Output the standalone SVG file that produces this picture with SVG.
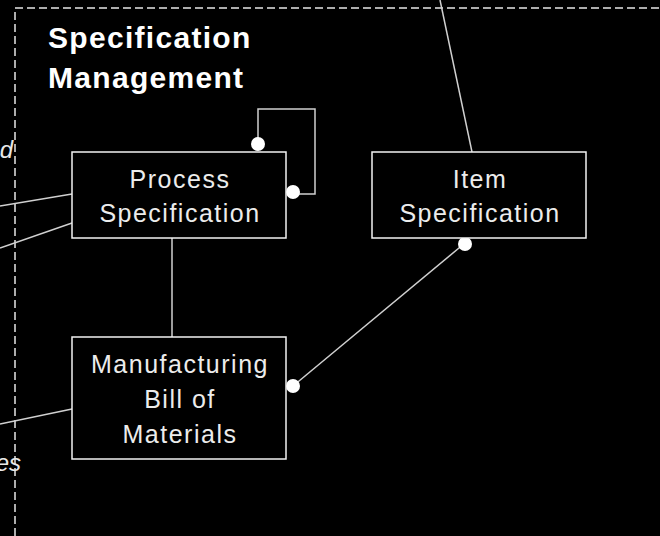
<svg xmlns="http://www.w3.org/2000/svg" width="660" height="536" viewBox="0 0 660 536">
<style>
.node rect{fill:#000;stroke:#f2f2f2;stroke-width:1.5}
.node text{font-family:"Liberation Sans",Arial,sans-serif;font-size:25px;fill:#ececec;text-anchor:middle;letter-spacing:1.5px}
.conn{fill:none;stroke:#d0d0d0;stroke-width:1.5}
.dot{fill:#fff}
.lbl{font-family:"Liberation Sans",Arial,sans-serif;font-size:24px;font-style:italic;fill:#e8e8e8;text-anchor:end}
.title{font-family:"Liberation Sans",Arial,sans-serif;font-size:30px;font-weight:bold;fill:#fff;letter-spacing:1.3px}
</style>
<rect width="660" height="536" fill="#000"/>
<g id="boundary">
<path d="M15 536 V8 H660" fill="none" stroke="#e6e6e6" stroke-width="1.5" stroke-dasharray="8 4"/>
<text class="title" x="48" y="48">Specification</text>
<text class="title" x="48" y="88">Management</text>
</g>
<g id="connectors">
<path class="conn" d="M258 144 V109 H315 V194 H293"/>
<path class="conn" d="M172 238 V337"/>
<path class="conn" d="M293 386 L465 243"/>
<path class="conn" d="M440 0 L472 152"/>
<path class="conn" d="M0 206 L72 194"/>
<path class="conn" d="M0 248 L72 223"/>
<path class="conn" d="M0 424 L72 409"/>
<circle class="dot" cx="258" cy="144" r="7"/>
<circle class="dot" cx="293" cy="192" r="7"/>
<circle class="dot" cx="293" cy="386" r="7"/>
<circle class="dot" cx="465" cy="244" r="7"/>
<text class="lbl" x="13" y="158">d</text>
<text class="lbl" x="21" y="471">es</text>
</g>
<g id="process-specification" class="node">
<rect x="72" y="152" width="214" height="86"/>
<text x="180" y="188">Process</text>
<text x="180" y="222">Specification</text>
</g>
<g id="item-specification" class="node">
<rect x="372" y="152" width="214" height="86"/>
<text x="480" y="188">Item</text>
<text x="480" y="222">Specification</text>
</g>
<g id="manufacturing-bom" class="node">
<rect x="72" y="337" width="214" height="122"/>
<text x="180" y="373">Manufacturing</text>
<text x="180" y="408">Bill of</text>
<text x="180" y="443">Materials</text>
</g>
</svg>
